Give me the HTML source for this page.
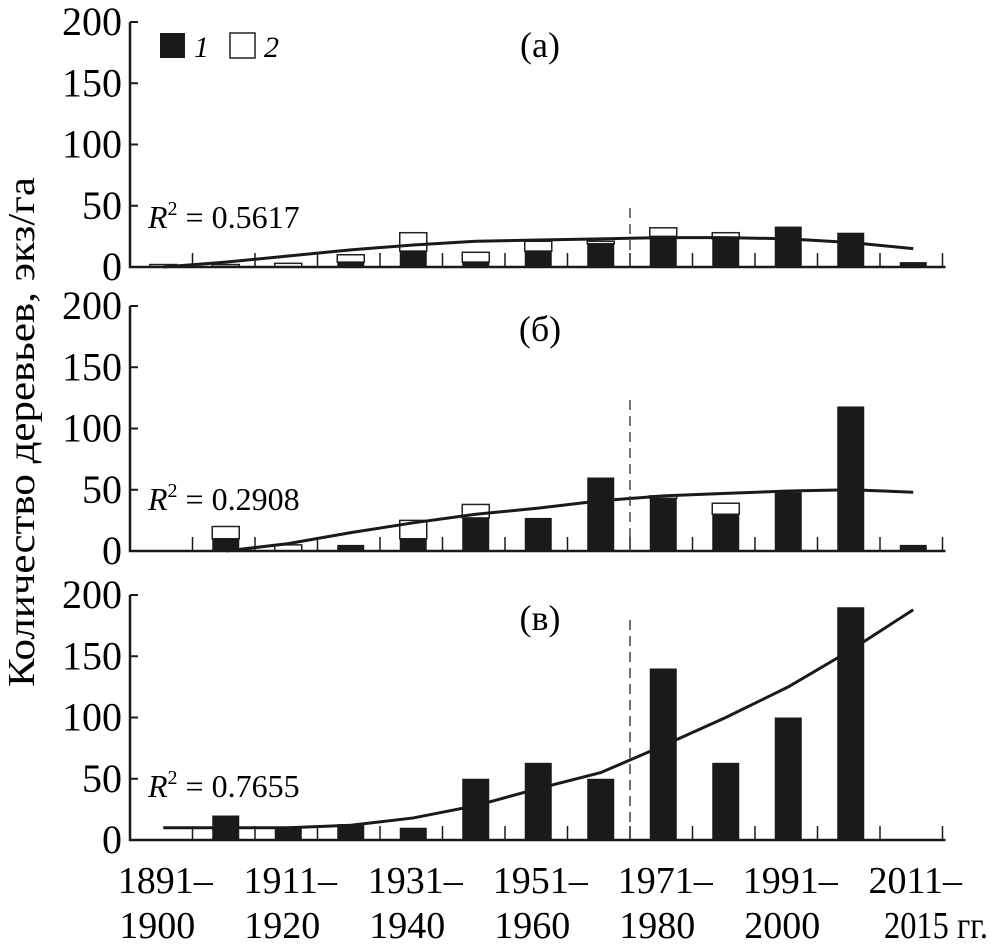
<!DOCTYPE html>
<html><head><meta charset="utf-8"><style>
body{margin:0;background:#fff}
svg{display:block}
svg text{font-family:"Liberation Serif","DejaVu Serif","Times New Roman",serif}
</style></head><body>
<svg id="chart" width="991" height="952" viewBox="0 0 991 952">
<text transform="translate(34,432) rotate(-90)" text-anchor="middle" font-size="38" textLength="510" lengthAdjust="spacingAndGlyphs">Количество деревьев, экз/га</text>
<g id="panels"></g>
<g id="xlabels"></g>
</svg>
<script>
const categories=["1891–1900","1901–1910","1911–1920","1921–1930","1931–1940","1941–1950","1951–1960","1961–1970","1971–1980","1981–1990","1991–2000","2001–2010","2011–2015"];
const yTicks=[0,50,100,150,200];
const xLabelTop=["1891–","1911–","1931–","1951–","1971–","1991–","2011–"];
const xLabelBottom=["1900","1920","1940","1960","1980","2000","2015 гг."];
const aSeries1=[0,0,0,4,13,4,13,19,25,23,33,28,4];
const aSeries2=[2,2,3,6,15,8,8,2,7,5,0,0,0];
const aTrend=[0,4,9,14,18,21,22,23,24,24,23,20,15];
const bSeries1=[0,10,0,5,10,27,27,60,43,30,48,118,5];
const bSeries2=[0,10,5,0,15,11,0,0,2,9,0,0,0];
const bTrend=[null,0,6,15,23,30,35,41,45,47,49,50,48];
const cSeries1=[0,20,10,13,10,50,63,50,140,63,100,190,0];
const cSeries2=[0,0,0,0,0,0,0,0,0,0,0,0,0];
const cTrend=[10,10,10,12,18,28,42,55,77,100,125,155,188];
const panels=[
 {name:"a",label:"(а)",r2:"0.5617",base:267,s1:aSeries1,s2:aSeries2,tr:aTrend,r2y:228,dashTop:208,legend:true},
 {name:"b",label:"(б)",r2:"0.2908",base:551,s1:bSeries1,s2:bSeries2,tr:bTrend,r2y:510,dashTop:400},
 {name:"c",label:"(в)",r2:"0.7655",base:840,s1:cSeries1,s2:cSeries2,tr:cTrend,r2y:797,dashTop:620}
];
const NS="http://www.w3.org/2000/svg";
const x0=130,slotW=62.5,pxPerUnit=1.225,barW=27;
function xSlot(i){return x0+i*slotW;}
function xCenter(i){return x0+(i+0.5)*slotW+2;}
function mk(tag,attrs,parent){const e=document.createElementNS(NS,tag);for(const k in attrs)e.setAttribute(k,attrs[k]);parent.appendChild(e);return e;}
const root=document.getElementById('panels');
panels.forEach(p=>{
 const y=v=>p.base-v*pxPerUnit;
 const g=mk('g',{},root);
 
 
 p.s1.forEach((v,i)=>{
  const tot=v+p.s2[i];
  if(p.s2[i]>0){
   const r=mk('rect',{x:xCenter(i)-barW/2,y:y(tot),width:barW,height:p.s2[i]*pxPerUnit,fill:'#fff',stroke:'#222','stroke-width':1.5},g);
   
   
  }
  if(v>0){
   const r=mk('rect',{x:xCenter(i)-barW/2,y:y(v),width:barW,height:v*pxPerUnit,fill:'#1a1a1a'},g);
   
   
  }
 });
 const pts=[];p.tr.forEach((v,i)=>{if(v!==null)pts.push(xCenter(i)+','+y(v));});
 const pl=mk('polyline',{points:pts.join(' '),fill:'none',stroke:'#1a1a1a','stroke-width':3},g);
 
 
 const ax=mk('path',{d:`M${x0},${y(200)} V${p.base} H${xSlot(13)+3}`,fill:'none',stroke:'#1a1a1a','stroke-width':2.5},g);
 
 
 for(let i=1;i<=13;i++){const t=mk('line',{x1:xSlot(i),x2:xSlot(i),y1:p.base,y2:p.base-14,stroke:'#1a1a1a','stroke-width':1.5},g);
  }
 yTicks.forEach(v=>{
  const t=mk('line',{x1:x0,x2:x0+8,y1:y(v),y2:y(v),stroke:'#1a1a1a','stroke-width':2},g);
  
  const tx=mk('text',{x:x0-8,y:y(v)+13,'text-anchor':'end','font-size':40},g);tx.textContent=v;
  
 });
 const d=mk('line',{x1:xSlot(8),x2:xSlot(8),y1:p.dashTop,y2:p.base,stroke:'#444','stroke-width':1.5,'stroke-dasharray':'10,6'},g);
 
 const tl=mk('text',{x:540,y:y(200)+35,'text-anchor':'middle','font-size':36},g);tl.textContent=p.label;
 
 const r2=mk('text',{x:148,y:p.r2y,'font-size':32},g);
 r2.innerHTML='<tspan font-style="italic">R</tspan><tspan dy="-13" font-size="20">2</tspan><tspan dy="13"> = '+p.r2+'</tspan>';
 
 if(p.legend){
  const lg=mk('g',{},g);
  mk('rect',{x:160,y:33,width:25,height:25,fill:'#1a1a1a'},lg);
  const l1=mk('text',{x:194,y:57,'font-size':30,'font-style':'italic'},lg);l1.textContent='1';
  mk('rect',{x:230,y:33,width:25,height:25,fill:'#fff',stroke:'#222','stroke-width':1.5},lg);
  const l2=mk('text',{x:264,y:57,'font-size':30,'font-style':'italic'},lg);l2.textContent='2';
 }
});
const xl=document.getElementById('xlabels');
xLabelTop.forEach((s,k)=>{
 const cx=xCenter(k*2)+2;
 const t=mk('text',{x:cx,y:893,'text-anchor':'middle','font-size':38},xl);t.textContent=s;
 
 const b=mk('text',{x:k===6?884:cx-8,y:938,'text-anchor':k===6?'start':'middle','font-size':38},xl);b.textContent=xLabelBottom[k];
 if(k===6){b.setAttribute('textLength','104');b.setAttribute('lengthAdjust','spacingAndGlyphs');}
 
});
</script>
</body></html>
